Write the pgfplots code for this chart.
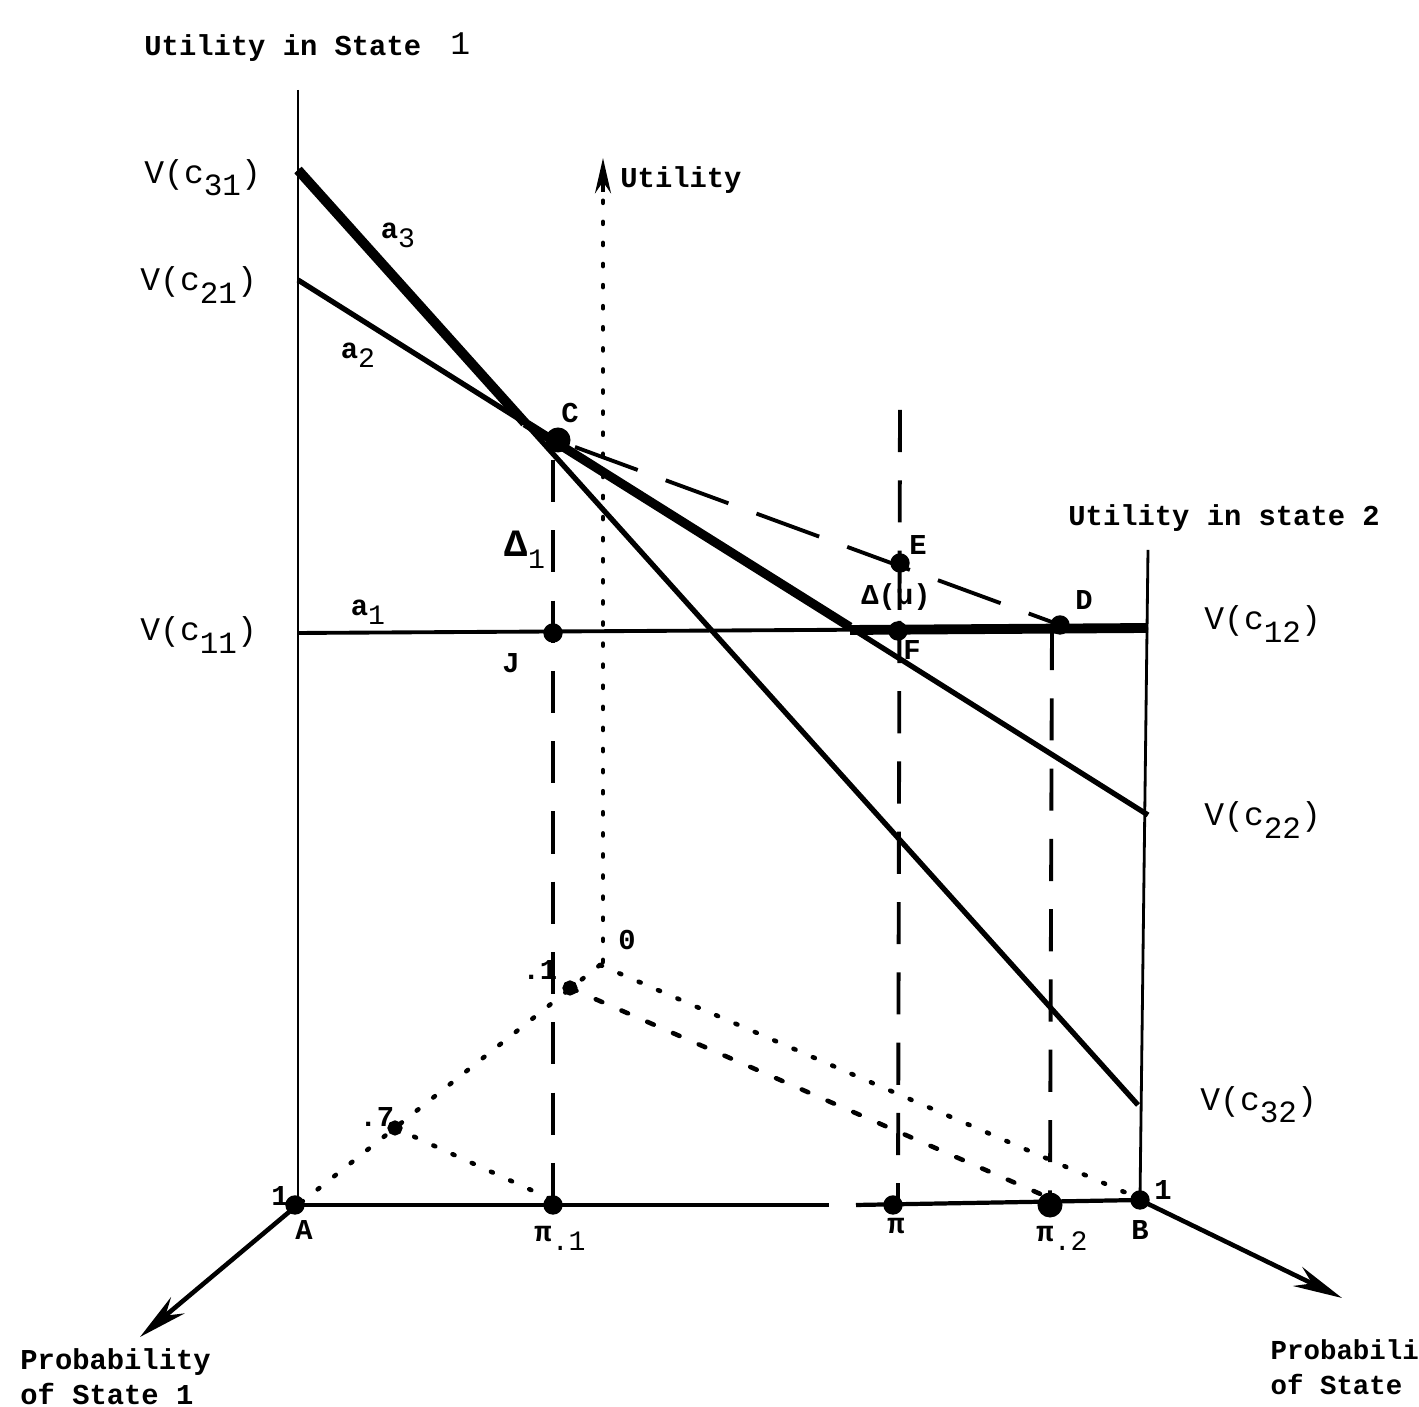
\documentclass[border=0pt]{standalone}
\usepackage{pgfplots}
\pgfplotsset{compat=1.18}
\usepackage{fontspec}
\setmainfont{Liberation Mono}
\usetikzlibrary{arrows.meta}

% thin subscripts as in the typed labels
\newcommand{\sub}[1]{\raisebox{-0.6ex}{\mdseries\fontsize{8}{9}\selectfont#1}}
\newcommand{\vsub}[1]{\raisebox{-0.7ex}{\mdseries\fontsize{8.8}{10}\selectfont#1}}

\begin{document}
\begin{tikzpicture}[font=\fontsize{8.2}{10}\selectfont\bfseries,
    thin/.style={font=\fontsize{9.4}{11}\selectfont\mdseries}]
\begin{axis}[
    scale only axis,
    width=14.19cm, height=14.07cm,
    xmin=0, xmax=1419, ymin=0, ymax=1407,
    y dir=reverse,
    hide axis,
    clip=false,
    every axis plot/.append style={black, line width=1.1pt},
    dotline/.style={line width=1.3pt, line cap=round, dash pattern=on 0.6pt off 5.4pt},
    vdash/.style={line width=1.1pt, dash pattern=on 12pt off 8pt},
    pt/.style={only marks, mark=*, mark size=2.2pt},
]
% frame of the diagram
\addplot[line width=0.8pt] coordinates {(298,90) (298,1205)};
\addplot[line width=0.8pt] coordinates {(1148,550) (1140,1200)};
\addplot[line width=1.2pt] coordinates {(295,1205) (829,1205)};
\addplot[line width=1.2pt] coordinates {(856,1205) (1140,1200)};
\addplot[line width=1.3pt, -{Stealth[length=14pt,width=6pt]}] coordinates {(295,1207) (140,1337)};
\addplot[line width=1.3pt, -{Stealth[length=14pt,width=6pt]}] coordinates {(1140,1200) (1342,1298)};

% utility axis (dotted) and simplex lines
\addplot[dotline] coordinates {(603,962) (603,190)};
\addplot[line width=1.3pt, -{Stealth[length=10pt,width=4.5pt]}] coordinates {(603,192) (603,158)};
\addplot[dotline] coordinates {(600,965) (298,1205)};
\addplot[dotline] coordinates {(395,1128) (553,1200)};
\addplot[line width=1.3pt, line cap=round, dash pattern=on 2pt off 6pt] coordinates {(570,988) (1045,1196)};
\addplot[dotline] coordinates {(600,965) (1138,1198)};

% vertical dashed lines
\addplot[vdash] coordinates {(553,460) (553,1205)};
\addplot[vdash] coordinates {(900,410) (898,1205)};
\addplot[vdash] coordinates {(1052,628) (1050,1205)};

% utility lines a1, a2, a3
\addplot[line width=1.1pt] coordinates {(298,633) (1148,628)};
\addplot[line width=1.5pt] coordinates {(298,280) (1148,815)};
\addplot[line width=1.5pt] coordinates {(298,170) (1138,1105)};
% upper envelope drawn heavy
\addplot[line width=2.8pt] coordinates {(298,170) (525,423)};
\addplot[line width=2.6pt] coordinates {(525,423) (850,627)};
\addplot[line width=2.8pt] coordinates {(850,630) (1148,628)};

% dashed chord C--D
\addplot[line width=1.1pt, dash pattern=on 19pt off 8.5pt] coordinates {(575,447) (1060,625)};

% marked points
\addplot[pt, mark size=3pt] coordinates {(558,440) (1050,1205)};
\addplot[pt] coordinates {(553,633) (898,631) (1060,625) (900,563)
    (295,1205) (553,1205) (893,1205) (1140,1200)};
\addplot[pt, mark size=1.6pt] coordinates {(570,988) (395,1128)};

% labels
\node[anchor=west] at (axis cs:132,48) {Utility in State};
\node[anchor=west, thin] at (axis cs:438,44) {1};
\node[anchor=west] at (axis cs:608,180) {Utility};
\node[anchor=west] at (axis cs:1056,518) {Utility in state 2};

\node[anchor=west, thin] at (axis cs:132,178) {V(c\vsub{31})};
\node[anchor=west, thin] at (axis cs:128,285) {V(c\vsub{21})};
\node[anchor=west, thin] at (axis cs:128,635) {V(c\vsub{11})};
\node[anchor=west, thin] at (axis cs:1192,624) {V(c\vsub{12})};
\node[anchor=west, thin] at (axis cs:1192,820) {V(c\vsub{22})};
\node[anchor=west, thin] at (axis cs:1188,1105) {V(c\vsub{32})};

\node at (axis cs:398,235) {a\sub{3}};
\node at (axis cs:358,355) {a\sub{2}};
\node at (axis cs:368,612) {a\sub{1}};
\node at (axis cs:570,413) {C};
\node at (axis cs:525,550) {\fontsize{11}{12}\selectfont Δ\sub{1}};
\node at (axis cs:511,663) {J};
\node at (axis cs:896,597) {Δ(μ)};
\node at (axis cs:918,545) {E};
\node at (axis cs:912,650) {F};
\node at (axis cs:1084,600) {D};

\node at (axis cs:627,940) {0};
\node at (axis cs:540,970) {.1};
\node at (axis cs:377,1117) {.7};
\node at (axis cs:280,1196) {1};
\node at (axis cs:1163,1190) {1};
\node at (axis cs:304,1230) {A};
\node at (axis cs:560,1238) {π\sub{.1}};
\node at (axis cs:896,1226) {π};
\node at (axis cs:1062,1238) {π\sub{.2}};
\node at (axis cs:1140,1230) {B};

\node[anchor=west, align=left] at (axis cs:8,1377) {Probability\\of State 1};
\node[anchor=west, align=left, inner sep=0pt, font=\fontsize{7.8}{10}\selectfont\bfseries]
    at (axis cs:1270,1367) {Probabili\\of State};
\end{axis}
\pgfresetboundingbox
\path (current axis.south west) rectangle (current axis.north east);
\end{tikzpicture}
\end{document}
